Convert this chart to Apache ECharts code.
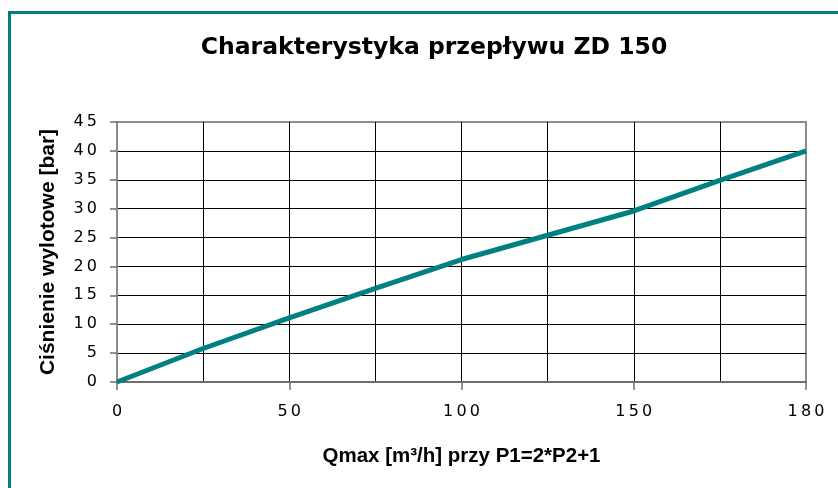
<!DOCTYPE html>
<html>
<head>
<meta charset="utf-8">
<script src="https://cdn.jsdelivr.net/npm/echarts@6/dist/echarts.min.js"></script>
<style>
  html, body { margin: 0; padding: 0; background: #fff; }
  #chart { width: 838px; height: 488px; }
</style>
</head>
<body>
<div id="chart"></div>
<script>
// przepływ Qmax [m3/h] - kategorie osi X
const flowCategories = ['0', '25', '50', '75', '100', '125', '150', '175', '180'];
// ciśnienie wylotowe [bar]
const pressureValues = [0, 5.8, 11.1, 16.2, 21.2, 25.4, 29.6, 34.9, 40];
const yTicks = { min: 0, max: 45, interval: 5 };

const spaced = (v) => String(v).split('').join('\u2009');

const chart = echarts.init(document.getElementById('chart'));
chart.setOption({
  backgroundColor: '#fff',
  animation: false,
  title: {
    text: 'Charakterystyka przepływu ZD 150',
    left: 429,
    top: 31,
    textAlign: 'center',
    textStyle: {
      fontFamily: 'DejaVu Sans',
      fontWeight: 'bold',
      fontSize: 23.5,
      color: '#000'
    }
  },
  graphic: [
    {
      type: 'rect',
      shape: { x: 9.5, y: 12.5, width: 900, height: 600 },
      style: { fill: 'none', stroke: '#008080', lineWidth: 3 },
      silent: true
    }
  ],
  grid: {
    left: 117,
    right: 32,
    top: 122,
    bottom: 106,
    show: true,
    borderColor: '#8c8c8c',
    borderWidth: 2
  },
  xAxis: {
    type: 'category',
    data: flowCategories,
    boundaryGap: false,
    name: 'Qmax [m³/h] przy P1=2*P2+1',
    nameLocation: 'middle',
    nameGap: 64,
    nameTextStyle: {
      fontFamily: 'Liberation Sans',
      fontWeight: 'bold',
      fontSize: 20.5,
      color: '#000'
    },
    axisLine: { lineStyle: { color: '#6e6e6e', width: 2 } },
    axisTick: { show: true, interval: 1, length: 8, lineStyle: { color: '#6e6e6e', width: 1.5 } },
    axisLabel: {
      interval: 1,
      margin: 22,
      fontFamily: 'DejaVu Sans',
      fontSize: 16,
      color: '#000',
      formatter: spaced
    },
    splitLine: {
      show: true,
      interval: 0,
      showMinLine: false,
      showMaxLine: false,
      lineStyle: { color: '#000', width: 1 }
    }
  },
  yAxis: {
    type: 'value',
    min: yTicks.min,
    max: yTicks.max,
    interval: yTicks.interval,
    name: 'Ciśnienie wylotowe [bar]',
    nameLocation: 'middle',
    nameGap: 58,
    nameTextStyle: {
      fontFamily: 'Liberation Sans',
      fontWeight: 'bold',
      fontSize: 21,
      color: '#000'
    },
    axisLine: { show: true, lineStyle: { color: '#8c8c8c', width: 2 } },
    axisTick: { show: true, length: 7, lineStyle: { color: '#6e6e6e', width: 1.5 } },
    axisLabel: {
      margin: 20,
      fontFamily: 'DejaVu Sans',
      fontSize: 16,
      color: '#000',
      formatter: spaced
    },
    splitLine: {
      show: true,
      showMinLine: false,
      showMaxLine: false,
      lineStyle: { color: '#000', width: 1 }
    }
  },
  series: [
    {
      type: 'line',
      data: pressureValues,
      symbol: 'none',
      lineStyle: { color: '#008080', width: 5 },
      z: 5
    }
  ]
});
</script>
</body>
</html>
